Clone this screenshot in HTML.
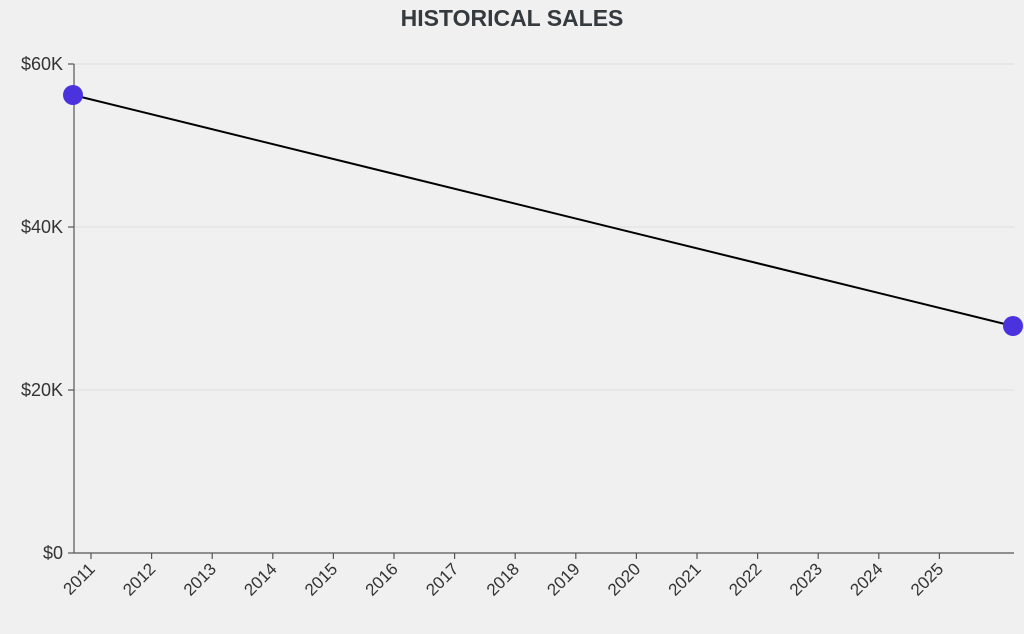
<!DOCTYPE html>
<html><head><meta charset="utf-8"><style>
html,body{margin:0;padding:0;background:#f0f0f0;}
svg{display:block;font-family:"Liberation Sans",sans-serif;}
</style></head><body>
<svg width="1024" height="634" viewBox="0 0 1024 634">
<rect width="1024" height="634" fill="#f0f0f0"/>
<text x="512" y="26" text-anchor="middle" font-size="23" font-weight="bold" fill="#343a3d">HISTORICAL SALES</text>
<g stroke="#dedede" stroke-width="1">
<line x1="74" y1="64" x2="1014" y2="64"/>
<line x1="74" y1="227" x2="1014" y2="227"/>
<line x1="74" y1="390" x2="1014" y2="390"/>
</g>
<g stroke="#555" stroke-width="1.2">
<line x1="74" y1="64" x2="74" y2="553"/>
<line x1="74" y1="553" x2="1014" y2="553"/>
<line x1="68" y1="64" x2="74" y2="64"/>
<line x1="68" y1="227" x2="74" y2="227"/>
<line x1="68" y1="390" x2="74" y2="390"/>
<line x1="68" y1="553" x2="74" y2="553"/>
<line x1="91" y1="553" x2="91" y2="559"/>
<line x1="151.6" y1="553" x2="151.6" y2="559"/>
<line x1="212.2" y1="553" x2="212.2" y2="559"/>
<line x1="272.8" y1="553" x2="272.8" y2="559"/>
<line x1="333.4" y1="553" x2="333.4" y2="559"/>
<line x1="394" y1="553" x2="394" y2="559"/>
<line x1="454.6" y1="553" x2="454.6" y2="559"/>
<line x1="515.2" y1="553" x2="515.2" y2="559"/>
<line x1="575.8" y1="553" x2="575.8" y2="559"/>
<line x1="636.4" y1="553" x2="636.4" y2="559"/>
<line x1="697" y1="553" x2="697" y2="559"/>
<line x1="757.6" y1="553" x2="757.6" y2="559"/>
<line x1="818.2" y1="553" x2="818.2" y2="559"/>
<line x1="878.8" y1="553" x2="878.8" y2="559"/>
<line x1="939.4" y1="553" x2="939.4" y2="559"/>
</g>
<g font-size="18" fill="#333" text-anchor="end">
<text x="63" y="70">$60K</text>
<text x="63" y="233">$40K</text>
<text x="63" y="396">$20K</text>
<text x="63" y="559">$0</text>
</g>
<g font-size="17" fill="#333" text-anchor="end">
<text transform="translate(96,570) rotate(-45)">2011</text>
<text transform="translate(156.6,570) rotate(-45)">2012</text>
<text transform="translate(217.2,570) rotate(-45)">2013</text>
<text transform="translate(277.8,570) rotate(-45)">2014</text>
<text transform="translate(338.4,570) rotate(-45)">2015</text>
<text transform="translate(399,570) rotate(-45)">2016</text>
<text transform="translate(459.6,570) rotate(-45)">2017</text>
<text transform="translate(520.2,570) rotate(-45)">2018</text>
<text transform="translate(580.8,570) rotate(-45)">2019</text>
<text transform="translate(641.4,570) rotate(-45)">2020</text>
<text transform="translate(702,570) rotate(-45)">2021</text>
<text transform="translate(762.6,570) rotate(-45)">2022</text>
<text transform="translate(823.2,570) rotate(-45)">2023</text>
<text transform="translate(883.8,570) rotate(-45)">2024</text>
<text transform="translate(944.4,570) rotate(-45)">2025</text>
</g>
<line x1="73" y1="95" x2="1013" y2="326" stroke="#000" stroke-width="2"/>
<circle cx="73" cy="95" r="10" fill="#4a33df"/>
<circle cx="1013" cy="326" r="10" fill="#4a33df"/>
</svg>
</body></html>
